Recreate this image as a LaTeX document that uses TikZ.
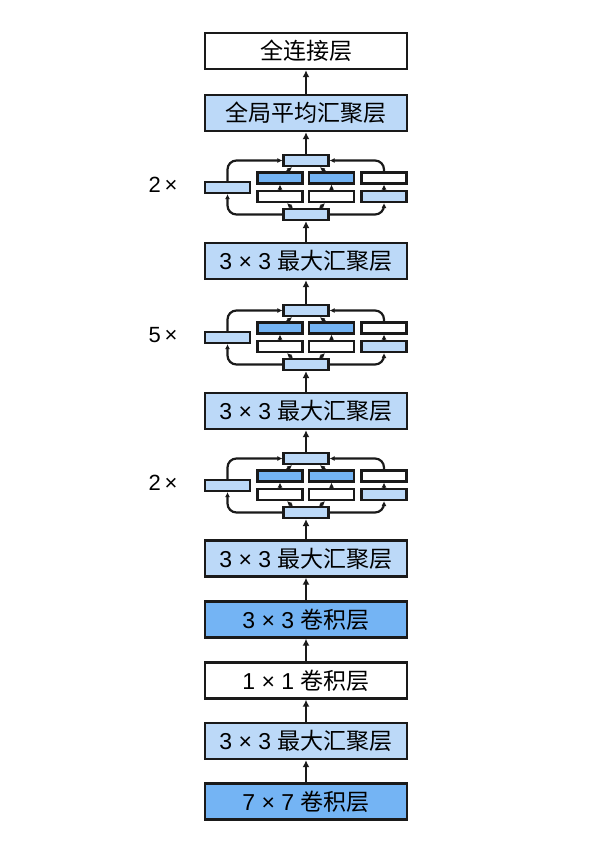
\documentclass[tikz,border=0pt]{standalone}
\usepackage{fontspec}
\setmainfont{Liberation Sans}
\newfontfamily\cjk{Noto Sans CJK SC}
\usetikzlibrary{arrows.meta}
\definecolor{dkblue}{HTML}{74B4F4}
\definecolor{ltblue}{HTML}{BCD9F8}
\definecolor{edge}{HTML}{1A1A1A}
\tikzset{
  mainbox/.style={draw=edge, line width=2.4pt, minimum width=202pt, minimum height=36pt, inner sep=0pt, font=\fontsize{23}{27}\selectfont},
  smallbox/.style={draw=edge, line width=2.2pt, minimum width=45pt, minimum height=11pt, inner sep=0pt},
  marr/.style={draw=edge, line width=2.4pt, -{Latex[length=7pt,width=7pt]}},
  sarr/.style={draw=edge, line width=2.2pt, -{Latex[length=5pt,width=5pt]}},
  rep/.style={font=\fontsize{22}{26}\selectfont},
}
\newcommand\incep[3]{%
  \begin{scope}[shift={(0,#1)}]
    \node[smallbox, fill=ltblue] (#2t) at (306,160.5) {};
    \node[smallbox, fill=ltblue] (#2b) at (306,214.5) {};
    \node[smallbox, fill=ltblue] (#2l) at (227.5,187.5) {};
    \node[smallbox, fill=dkblue] (#2a1) at (280,178) {};
    \node[smallbox, fill=white] (#2a2) at (280,196.5) {};
    \node[smallbox, fill=dkblue] (#2c1) at (331.5,178) {};
    \node[smallbox, fill=white] (#2c2) at (331.5,196.5) {};
    \node[smallbox, fill=white] (#2d1) at (384,178) {};
    \node[smallbox, fill=ltblue] (#2d2) at (384,196.5) {};
    \node[rep] (#2lab) at (163,185) {#3\,×};
    \draw[sarr, rounded corners=9pt] (#2b.west) -| (#2l.south);
    \draw[sarr, rounded corners=9pt] (#2l.north) |- (#2t.west);
    \draw[sarr, rounded corners=9pt] (#2b.east) -| (#2d2.south);
    \draw[sarr, rounded corners=9pt] (#2d1.north) |- (#2t.east);
    \draw[sarr] (#2a2.north) -- (#2a1.south);
    \draw[sarr] (#2c2.north) -- (#2c1.south);
    \draw[sarr] (#2d2.north) -- (#2d1.south);
    \draw[sarr] ([xshift=-14pt]#2b.north) -- ([xshift=7pt]#2a2.south);
    \draw[sarr] ([xshift=14pt]#2b.north) -- ([xshift=-6.5pt]#2c2.south);
    \draw[sarr] ([xshift=7pt]#2a1.north) -- ([xshift=-14pt]#2t.south);
    \draw[sarr] ([xshift=-6.5pt]#2c1.north) -- ([xshift=14pt]#2t.south);
  \end{scope}}
\begin{document}
\begin{tikzpicture}[x=1pt,y=-1pt]
\path[use as bounding box] (0,0) rectangle (609,862);
\node[mainbox, fill=white] (fc) at (306,51) {\cjk 全连接层};
\node[mainbox, fill=ltblue] (gap) at (306,113) {\cjk 全局平均汇聚层};
\node[mainbox, fill=ltblue] (max1) at (306,261) {3 × 3 {\cjk 最大汇聚层}};
\node[mainbox, fill=ltblue] (max2) at (306,411) {3 × 3 {\cjk 最大汇聚层}};
\node[mainbox, fill=ltblue] (max3) at (306,558.5) {3 × 3 {\cjk 最大汇聚层}};
\node[mainbox, fill=dkblue] (conv3) at (306,619.5) {3 × 3 {\cjk 卷积层}};
\node[mainbox, fill=white] (conv1) at (306,680.5) {1 × 1 {\cjk 卷积层}};
\node[mainbox, fill=ltblue] (max4) at (306,741) {3 × 3 {\cjk 最大汇聚层}};
\node[mainbox, fill=dkblue] (conv7) at (306,801.5) {7 × 7 {\cjk 卷积层}};
\incep{0}{p}{2}
\incep{150}{q}{5}
\incep{298}{r}{2}
\draw[marr] (conv7.north) -- (max4.south);
\draw[marr] (max4.north) -- (conv1.south);
\draw[marr] (conv1.north) -- (conv3.south);
\draw[marr] (conv3.north) -- (max3.south);
\draw[marr] (max3.north) -- (rb.south);
\draw[marr] (rt.north) -- (max2.south);
\draw[marr] (max2.north) -- (qb.south);
\draw[marr] (qt.north) -- (max1.south);
\draw[marr] (max1.north) -- (pb.south);
\draw[marr] (pt.north) -- (gap.south);
\draw[marr] (gap.north) -- (fc.south);
\end{tikzpicture}
\end{document}
